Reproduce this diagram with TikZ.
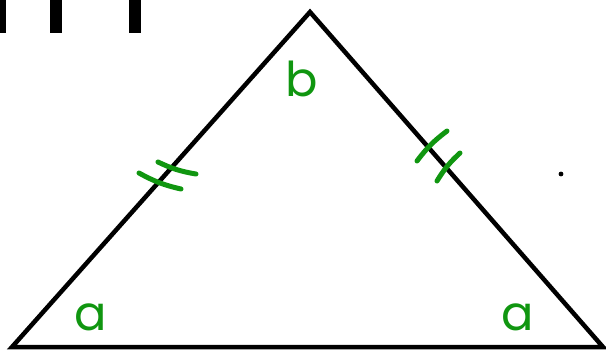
\documentclass[tikz,border=0pt]{standalone}
\usepackage{fontspec}
\setsansfont{Poppins}
\usetikzlibrary{calc}
\definecolor{penGreen}{RGB}{16,150,16}
\begin{document}
\begin{tikzpicture}[x=1pt, y=-1pt,
  side/.style={line width=4.5pt, line join=miter},
  tickmark/.style={draw=penGreen, line width=5pt, line cap=round},
  anglelabel/.style={text=penGreen, inner sep=0pt, font=\sffamily\fontsize{48}{48}\selectfont},
]
\useasboundingbox (0,0) rectangle (606,349);
% tally bars along the top edge
\foreach \x/\w in {0/6, 50/12, 129/12} {
  \fill (\x,0) rectangle ({\x+\w},33);
}
% the triangle
\coordinate (L) at (12,347);
\coordinate (T) at (310,12);
\coordinate (R) at (603,347);
\draw[side] (L) -- (T) -- (R) -- cycle;
% equal sides: double ticks
\draw[tickmark] (139,173) to[bend right=8] (181,189);
\draw[tickmark] (158,162) to[bend right=8] (196,174);
\draw[tickmark] (417,161) to[bend left=8] (447,131);
\draw[tickmark] (437,181) to[bend left=8] (460,153);
% angle letters
\node[anglelabel] (topb) at (302,79) {b};
\node[anglelabel] (lefta) at (91,317) {a};
\node[anglelabel] (righta) at (518,317) {a};
% stray dot
\fill (561,174) circle (2.4);
\end{tikzpicture}
\end{document}
